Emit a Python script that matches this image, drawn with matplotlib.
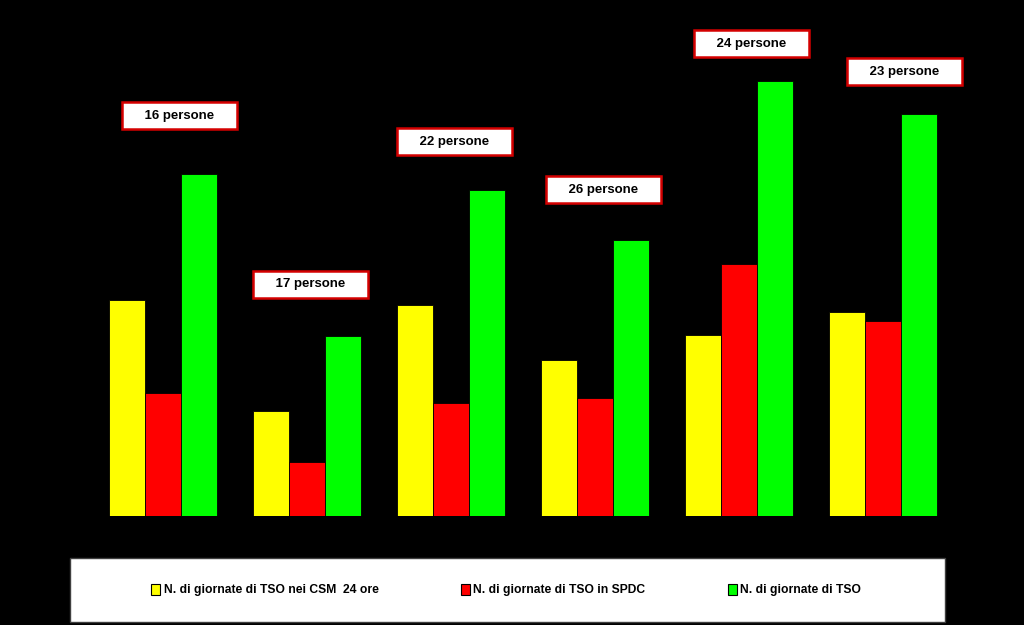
import matplotlib
matplotlib.use("Agg")
import matplotlib.pyplot as plt
import numpy as np
from matplotlib.patches import Rectangle, Patch

FIGSIZE = (10.24, 6.25)
DPI = 100

SERIES_LABELS = [
    "N. di giornate di TSO nei CSM  24 ore",
    "N. di giornate di TSO in SPDC",
    "N. di giornate di TSO",
]
SERIES_COLORS = ["#ffff00", "#ff0000", "#00ff00"]

csm_24h = [216, 105, 211, 156, 181, 204]
spdc = [123, 54, 113, 118, 252, 195]
tso_total = [342, 180, 326, 276, 435, 402]
persone = [16, 17, 22, 26, 24, 23]

# label box offsets (pixels) relative to the top centre of the green bar
LABEL_OFFSETS = [(-19, 60), (-32, 53), (-32, 50), (-27, 52), (-23, 39), (-14, 44)]

plt.rcParams["font.family"] = ["Liberation Sans", "DejaVu Sans"]

fig = plt.figure(figsize=FIGSIZE, dpi=DPI, facecolor="black")
ax = fig.add_axes([90.5 / 1024, 109 / 625, 864 / 1024, 480 / 625])
ax.set_facecolor("black")

x = np.arange(len(persone))
width = 0.25
series = [csm_24h, spdc, tso_total]
for i, (vals, color) in enumerate(zip(series, SERIES_COLORS)):
    ax.bar(x + (i - 1) * width, vals, width, color=color,
           edgecolor="black", linewidth=0.6)

for xi, top, n, (dx, dy) in zip(x, tso_total, persone, LABEL_OFFSETS):
    ax.annotate(f"    {n} persone    ", xy=(xi + width, top), xytext=(dx, dy),
                textcoords="offset pixels", ha="center", va="center_baseline",
                fontsize=9.5, fontweight="bold", color="black",
                bbox=dict(boxstyle="square,pad=0.6", facecolor="white",
                          edgecolor="#d40000", linewidth=1.8))

ax.set_xlim(-0.5, len(persone) - 0.5)
ax.set_ylim(0, 480)
ax.set_xticks([])
ax.set_yticks([])
for spine in ax.spines.values():
    spine.set_visible(False)

# legend panel
fig.patches.append(Rectangle((70 / 1024, 3 / 625), 875 / 1024, 64 / 625,
                             transform=fig.transFigure, facecolor="white",
                             edgecolor="#404040", linewidth=1, zorder=0))
handles = [Patch(facecolor=c, edgecolor="black", linewidth=0.8) for c in SERIES_COLORS]
fig.legend(handles, SERIES_LABELS, loc="center", ncol=3,
           bbox_to_anchor=(506 / 1024, 35 / 625), frameon=False,
           prop={"weight": "bold", "size": 8.7},
           handlelength=0.75, handleheight=1.0, handletextpad=0.3,
           columnspacing=6.8)

fig.savefig("out.png", dpi=DPI, facecolor="black")
